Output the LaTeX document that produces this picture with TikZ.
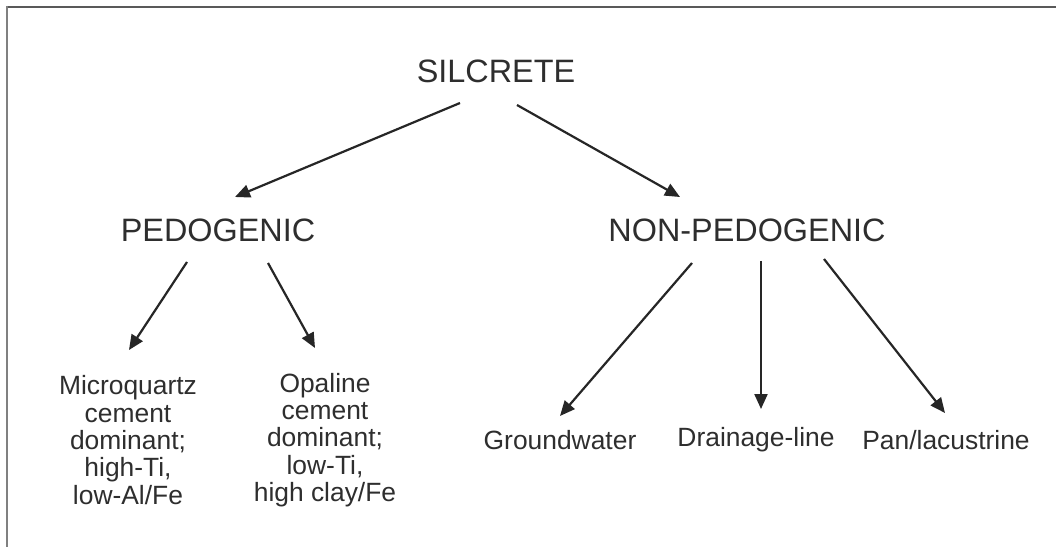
\documentclass[tikz,border=0pt]{standalone}
\usepackage{fontspec}
\setmainfont{Liberation Sans}
\usetikzlibrary{arrows.meta}
\definecolor{ink}{HTML}{262626}
\definecolor{txt}{HTML}{2E2E2E}
\tikzset{
  head/.style={text=txt, font=\fontsize{32.5}{38}\selectfont, inner sep=0pt},
  leaf/.style={text=txt, font=\fontsize{26.5}{27.5}\selectfont, inner sep=0pt, align=center},
  link/.style={draw=ink, line width=2.2bp, -{Triangle[length=15bp,width=13bp]}}
}
\begin{document}
\begin{tikzpicture}[x=1bp,y=-1bp]
\useasboundingbox (0,0) rectangle (1056,547);
\fill[white] (0,0) rectangle (1056,547);
\draw[line width=2bp, color=black!65] (6,7) -- (1056,7);
\draw[line width=2bp, color=black!50] (7,6) -- (7,547);

\node[head] (sil) at (496,71) {SILCRETE};
\node[head] (ped) at (218,230) {PEDOGENIC};
\node[head] (non) at (747,230) {NON-PEDOGENIC};

\node[leaf] (mic) at (128,440) {Microquartz\\cement\\dominant;\\high-Ti,\\low-Al/Fe};
\node[leaf] (opa) at (325,440) {Opaline\\cement\\dominant;\\low-Ti,\\high clay/Fe};
\node[leaf] (gro) at (560,440) {Groundwater};
\node[leaf] (dra) at (756,440) {Drainage-line};
\node[leaf] (pan) at (946,440) {Pan/lacustrine};

\coordinate (a1) at (460,103); \coordinate (b1) at (235,197);
\coordinate (a2) at (517,105); \coordinate (b2) at (680,197);
\coordinate (a3) at (187,262); \coordinate (b3) at (129,350);
\coordinate (a4) at (268,263); \coordinate (b4) at (315,348);
\coordinate (a5) at (692,263); \coordinate (b5) at (560,416);
\coordinate (a6) at (761,261); \coordinate (b6) at (761,409);
\coordinate (a7) at (824,259); \coordinate (b7) at (945,413);

\draw[link] (a1) -- (b1);
\draw[link] (a2) -- (b2);
\draw[link] (a3) -- (b3);
\draw[link] (a4) -- (b4);
\draw[link] (a5) -- (b5);
\draw[link] (a6) -- (b6);
\draw[link] (a7) -- (b7);
\end{tikzpicture}
\end{document}
